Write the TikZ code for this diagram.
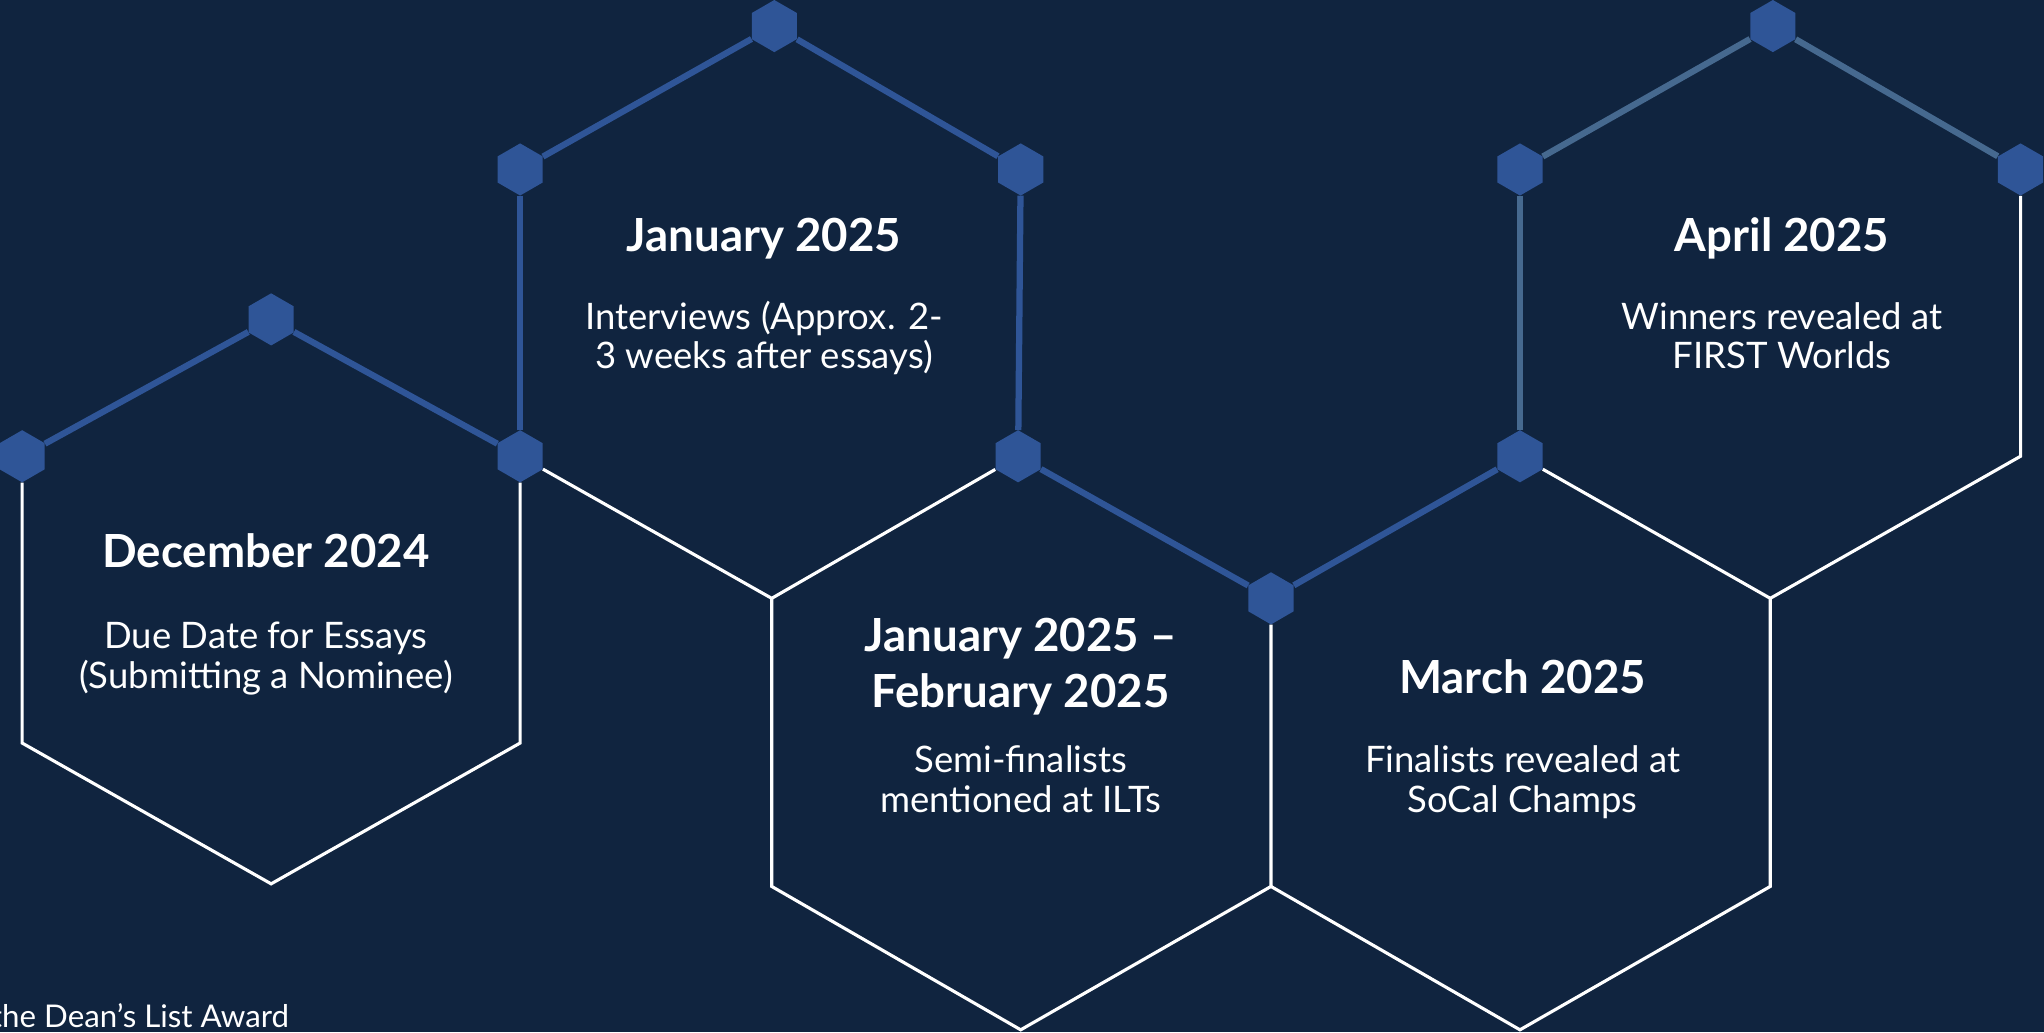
\documentclass[tikz,border=0pt]{standalone}
\usepackage{fontspec}
\setmainfont{Lato}
\usetikzlibrary{shapes.geometric}
\definecolor{bg}{HTML}{10243F}
\definecolor{nodeblue}{HTML}{2F5597}
\definecolor{steel}{HTML}{46698F}
\begin{document}
\begin{tikzpicture}[x=1pt,y=-1pt,
  dot/.style={regular polygon, regular polygon sides=6, shape border rotate=90,
    minimum size=40pt, inner sep=0pt, fill=nodeblue, draw=none},
  wline/.style={draw=white, line width=2.4pt, line join=miter},
  bline/.style={draw=nodeblue, line width=4.8pt, line join=miter},
  sline/.style={draw=steel, line width=4.8pt, line join=miter},
  title/.style={text=white, font=\bfseries\fontsize{35}{43}\selectfont, align=center, anchor=base, inner sep=0pt},
  body/.style={text=white, font=\fontsize{28}{30.5}\selectfont, align=center, anchor=base, inner sep=0pt}]
\useasboundingbox (0,0) rectangle (1568,792);
\fill[bg] (0,0) rectangle (1568,792);
\clip (0,0) rectangle (1568,792);

% lattice vertices without dots
\coordinate (All) at (17,570);
\coordinate (Alr) at (399,570);
\coordinate (Ab)  at (208,678);
\coordinate (Bb)  at (592,459);
\coordinate (Cll) at (592,680);
\coordinate (Clr) at (975,680);
\coordinate (Cb)  at (783,790);
\coordinate (Dur) at (1358,459);
\coordinate (Dlr) at (1358,680);
\coordinate (Db)  at (1166,790);
\coordinate (Elr) at (1550,350);

% dots
\node[dot] (At)  at (208,245) {};
\node[dot] (Aul) at (17,350) {};
\node[dot] (Aur) at (399,350) {};
\node[dot] (Bt)  at (594,20) {};
\node[dot] (Bul) at (399,130) {};
\node[dot] (Bur) at (783,130) {};
\node[dot] (Blr) at (781,350) {};
\node[dot] (Cur) at (975,459) {};
\node[dot] (Dt)  at (1166,350) {};
\node[dot] (Et)  at (1360,20) {};
\node[dot] (Eul) at (1166,130) {};
\node[dot] (Eur) at (1550,130) {};

% white outlines
\draw[wline] (Aul) -- (All) -- (Ab) -- (Alr) -- (Aur);
\draw[wline] (Aur) -- (Bb) -- (Blr);
\draw[wline] (Bb) -- (Cll) -- (Cb) -- (Clr) -- (Cur);
\draw[wline] (Dt) -- (Dur) -- (Dlr) -- (Db) -- (Clr);
\draw[wline] (Eur) -- (Elr) -- (Dur);

% blue connectors
\draw[bline] (Aul) -- (At);
\draw[bline] (At) -- (Aur);
\draw[bline] (Bul) -- (Bt);
\draw[bline] (Bt) -- (Bur);
\draw[bline] (Bul) -- (Aur);
\draw[bline] (Bur) -- (Blr);
\draw[bline] (Blr) -- (Cur);
\draw[bline] (Cur) -- (Dt);

% steel connectors
\draw[sline] (Eul) -- (Et);
\draw[sline] (Et) -- (Eur);
\draw[sline] (Eul) -- (Dt);

% texts (anchor = baseline of last line)
\node[title] (tA) at (204,435) {December 2024};
\node[body]  (bA) at (204,528) {Due Date for Essays\\(Submitting a Nominee)};
\node[title] (tB) at (586,193) {January 2025};
\node[body]  (bB) at (586,283) {Interviews (Approx. 2-\\3 weeks after essays)};
\node[title] (tC) at (783,543) {January 2025 –\\February 2025};
\node[body]  (bC) at (783,623) {Semi-finalists\\mentioned at ILTs};
\node[title] (tD) at (1168,532) {March 2025};
\node[body]  (bD) at (1168,623) {Finalists revealed at\\SoCal Champs};
\node[title] (tE) at (1367,193) {April 2025};
\node[body]  (bE) at (1367,283) {Winners revealed at\\FIRST Worlds};
\node[text=white, font=\fontsize{24}{28}\selectfont, anchor=base east, inner sep=0pt] (foot) at (222,788) {the Dean’s List Award};
\end{tikzpicture}
\end{document}
